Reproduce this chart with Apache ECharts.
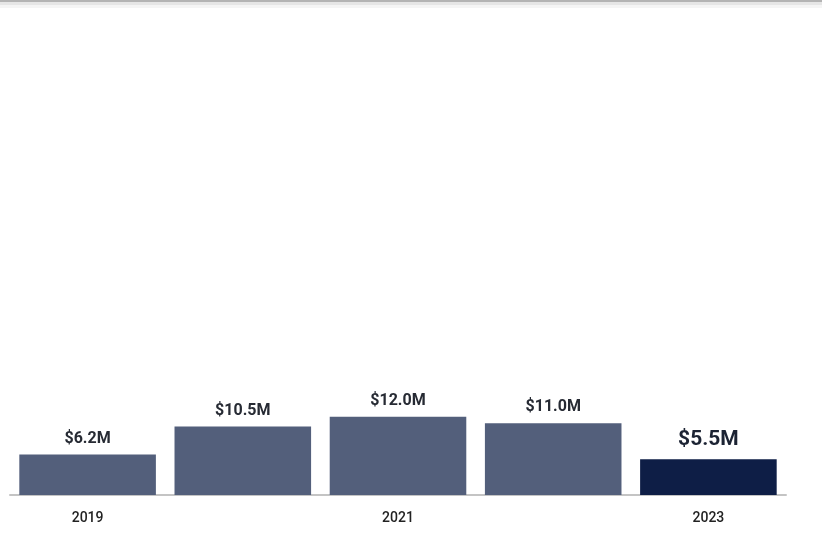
<!DOCTYPE html>
<html><head><meta charset="utf-8">
<script src="https://cdn.jsdelivr.net/npm/echarts@6/dist/echarts.min.js"></script>
<style>html,body{margin:0;padding:0;background:#fff}#c{width:822px;height:537px}</style>
</head><body><div id="c"></div>
<script>
const years = ['2019','2020','2021','2022','2023'];
const values = [6.2, 10.5, 12.0, 11.0, 5.5];
const labels = ['$6.2M','$10.5M','$12.0M','$11.0M','$5.5M'];
const highlightIndex = 4;

const chart = echarts.init(document.getElementById('c'), null, {renderer:'canvas'});
chart.setOption({
  animation:false,
  backgroundColor:'#fff',
  graphic:[
    {type:'rect', shape:{x:0,y:0,width:822,height:2}, style:{fill:'#b4b4b4'}},
    {type:'rect', shape:{x:0,y:2,width:822,height:3}, style:{fill:'#e6e6e6'}},
    {type:'rect', shape:{x:0,y:5,width:822,height:3}, style:{fill:'#f5f5f5'}}
  ],
  grid:{left:10, right:36, top:104, bottom:42, containLabel:false},
  xAxis:{type:'category', data:years,
    axisLine:{lineStyle:{color:'#c4c4c4', width:2}},
    axisTick:{show:false},
    axisLabel:{interval:1, color:'#222', fontFamily:'Roboto', fontWeight:500, fontSize:14, margin:16}
  },
  yAxis:{type:'value', min:0, max:60, show:false, splitLine:{show:false}},
  series:[{
    type:'bar', barCategoryGap:'12%',
    data: values.map((v,i)=>({
      value:v,
      itemStyle:{color: i===highlightIndex ? '#0e1e46' : '#535f7b'},
      label: i===highlightIndex ? {fontSize:21, color:'#1c2333', distance:9} : {}
    })),
    label:{show:true, position:'top', distance:8, fontFamily:'Roboto', fontWeight:'bold', fontSize:16, color:'#262a33',
      formatter:p=>labels[p.dataIndex]}
  }]
});
</script></body></html>
